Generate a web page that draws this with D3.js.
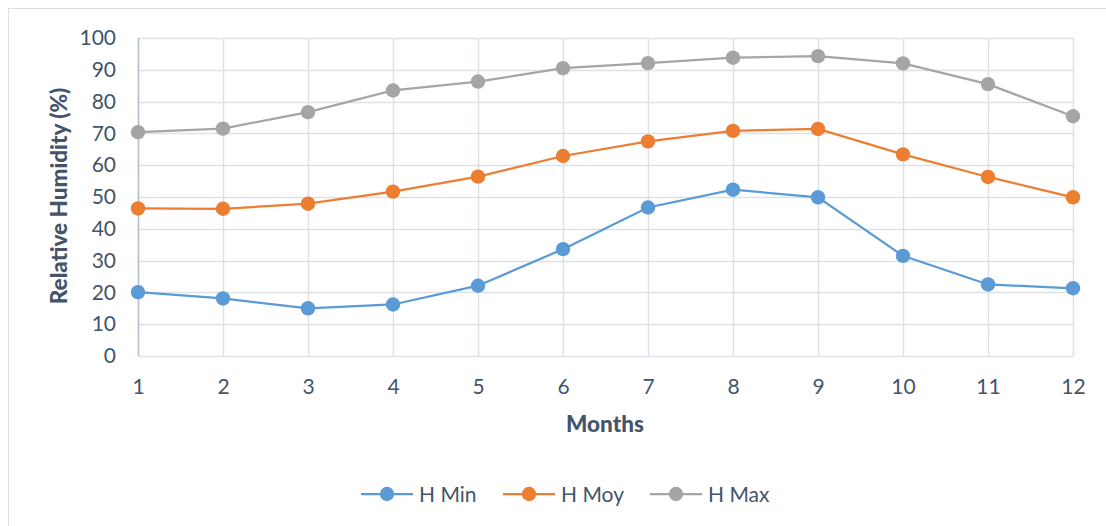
<!DOCTYPE html>
<html>
<head>
<meta charset="utf-8">
<script src="https://cdn.jsdelivr.net/npm/d3@7"></script>
<style>
  html, body { margin: 0; padding: 0; background: #fff; }
  svg { display: block; }
  text { font-family: Lato, "Open Sans", sans-serif; fill: #44546A; }
</style>
</head>
<body>
<svg id="chart" width="1106" height="526"></svg>
<script>
const months = [1, 2, 3, 4, 5, 6, 7, 8, 9, 10, 11, 12];
const hMin = [20.1, 18.1, 15.0, 16.2, 22.1, 33.6, 46.7, 52.3, 49.9, 31.5, 22.5, 21.3];
const hMoy = [46.4, 46.3, 47.9, 51.7, 56.4, 62.9, 67.5, 70.8, 71.4, 63.4, 56.3, 49.9];
const hMax = [70.4, 71.5, 76.7, 83.5, 86.3, 90.5, 92.1, 93.8, 94.3, 92.0, 85.5, 75.4];
const seriesNames = ["H Min", "H Moy", "H Max"];
const seriesColors = ["#5B9BD5", "#ED7D31", "#A5A5A5"];
const yTicks = [0, 10, 20, 30, 40, 50, 60, 70, 80, 90, 100];

const series = [hMin, hMoy, hMax].map((vals, i) => ({
  name: seriesNames[i], color: seriesColors[i],
  points: months.map((m, j) => ({ m, v: vals[j] }))
}));

const svg = d3.select("#chart");
const W = 1106, H = 526;
const plot = { left: 138, right: 1073, top: 38, bottom: 356 };

// outer border
svg.append("rect").attr("x", 8.5).attr("y", 8.5).attr("width", W + 20).attr("height", H + 20)
  .attr("fill", "none").attr("stroke", "#D9DEE6").attr("stroke-width", 1);

const x = d3.scaleLinear().domain([1, 12]).range([plot.left, plot.right]);
const y = d3.scaleLinear().domain([0, 100]).range([plot.bottom, plot.top]);

// gridlines
const grid = svg.append("g");
grid.selectAll("line.h").data(yTicks).enter().append("line")
  .attr("x1", plot.left).attr("x2", plot.right)
  .attr("y1", d => Math.round(y(d)) + 0.5).attr("y2", d => Math.round(y(d)) + 0.5)
  .attr("stroke", "#DCE1E8").attr("stroke-width", 1.5);
grid.selectAll("line.v").data(months).enter().append("line")
  .attr("y1", plot.top).attr("y2", plot.bottom)
  .attr("x1", d => Math.round(x(d)) + 0.5).attr("x2", d => Math.round(x(d)) + 0.5)
  .attr("stroke", "#DCE1E8").attr("stroke-width", 1.5);

// left axis line
svg.append("line").attr("x1", plot.left + 0.5).attr("x2", plot.left + 0.5)
  .attr("y1", plot.top).attr("y2", plot.bottom)
  .attr("stroke", "#B4C0D0").attr("stroke-width", 1.5);

// y axis
const yAxis = d3.axisLeft(y).tickValues(yTicks).tickSize(0).tickPadding(22);
const yg = svg.append("g").attr("transform", `translate(${plot.left},0)`).call(yAxis);
yg.select(".domain").remove();
yg.selectAll("text").style("font-size", "21px").attr("fill", "#44546A").style("font-family", "Lato, sans-serif");

// x axis
const xAxis = d3.axisBottom(x).tickValues(months).tickSize(0).tickPadding(23);
const xg = svg.append("g").attr("transform", `translate(0,${plot.bottom})`).call(xAxis);
xg.select(".domain").remove();
xg.selectAll("text").style("font-size", "21px").attr("fill", "#44546A").style("font-family", "Lato, sans-serif");

// axis titles
svg.append("text").attr("x", 605).attr("y", 432).attr("text-anchor", "middle")
  .style("font-size", "22.5px").style("font-weight", "900").text("Months");
svg.append("text").attr("transform", "translate(67,196) rotate(-90)").attr("text-anchor", "middle")
  .style("font-size", "22.5px").style("font-weight", "900").text("Relative Humidity (%)");

// lines & markers
const line = d3.line().x(d => x(d.m)).y(d => y(d.v));
const sg = svg.selectAll("g.series").data(series).enter().append("g");
sg.append("path").attr("d", d => line(d.points)).attr("fill", "none")
  .attr("stroke", d => d.color).attr("stroke-width", 2.25);
sg.each(function(s) {
  d3.select(this).selectAll("circle").data(s.points).enter().append("circle")
    .attr("cx", d => x(d.m)).attr("cy", d => y(d.v)).attr("r", 7.2)
    .attr("fill", s.color);
});

// legend
const legX = [361, 503, 650];
const legY = 494;
const lg = svg.selectAll("g.leg").data(series).enter().append("g")
  .attr("transform", (d, i) => `translate(${legX[i]},${legY})`);
lg.append("line").attr("x1", 0).attr("x2", 52).attr("y1", 0).attr("y2", 0)
  .attr("stroke", d => d.color).attr("stroke-width", 2.25);
lg.append("circle").attr("cx", 26).attr("cy", 0).attr("r", 7.2).attr("fill", d => d.color);
lg.append("text").attr("x", 58).attr("y", 7.5).style("font-size", "21px").text(d => d.name);
</script>
</body>
</html>
